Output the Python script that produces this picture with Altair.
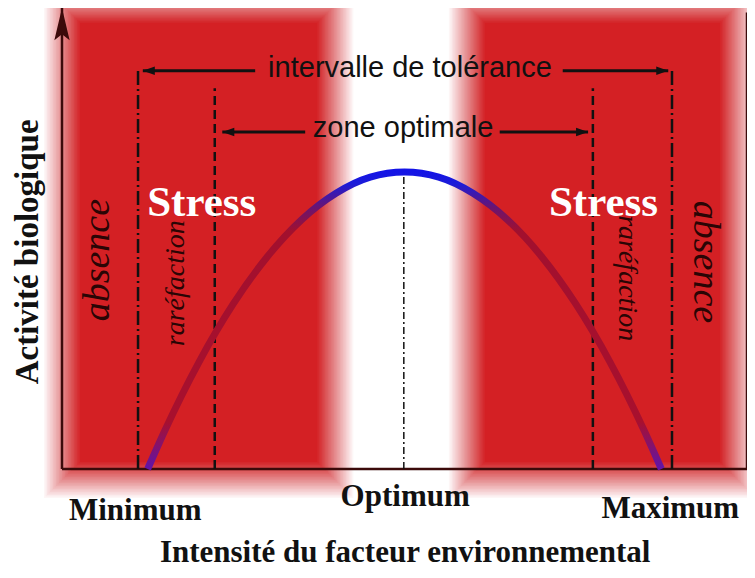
import altair as alt
import pandas as pd

# ---------------- data (axis units: x 0-100 intensity, y 0-100 activity) ----------------
zone_names = ["gauche", "droite"]
zone_x_start = [0.0, 59.1]
zone_x_end = [39.9, 98.7]
zone_y_top = [100.7, 100.7]
zone_y_bottom = [-2.4, -2.4]

curve_x = [12.5, 15, 20, 25, 30, 35, 40, 45, 50, 55, 60, 65, 70, 75, 80, 85, 87.5]
curve_y = [0, 8.3, 23.2, 35.8, 46.1, 54.1, 59.8, 63.3, 64.4, 63.3, 59.8, 54.1, 46.1, 35.8, 23.2, 8.3, 0]

guide_names = ["Minimum", "limite optimale gauche", "Optimum", "limite optimale droite", "Maximum"]
guide_x = [11.1, 22.3, 49.9, 77.5, 89.05]
guide_top = [87.0, 82.6, 64.4, 82.6, 87.0]
guide_kind = ["tolerance", "optimale", "optimum", "optimale", "tolerance"]

arrow_labels = ["intervalle de tolérance", "zone optimale"]
arrow_y = [86.4, 73.1]
arrow_label_x = [50.8, 49.8]
arrow_label_y = [87.0, 74.0]
arrow_left_from = [28.2, 35.5]
arrow_left_to = [11.8, 23.4]
arrow_right_from = [73.1, 63.9]
arrow_right_to = [88.5, 76.8]

stress_x = [20.4, 79.05]
stress_y = [57.7, 57.7]

absence_x = [5.25, 93.9]
absence_y = [45.3, 44.9]
absence_angle = [270, 90]

rare_x = [16.6, 82.5]
rare_y = [40.3, 41.4]
rare_angle = [270, 90]

tick_labels = ["Minimum", "Optimum", "Maximum"]
tick_x = [10.7, 50.1, 88.8]
tick_y = [-9.1, -6.1, -8.7]

x_title = "Intensité du facteur environnemental"
y_title = "Activité biologique"

# ---------------- styling ----------------
RED = "#d42024"
AXIS = "#3b0a0a"
INK = "#111111"
SERIF = "Liberation Serif"
SANS = "Liberation Sans"

xs = alt.Scale(domain=[0, 100], nice=False, zero=False)
ys = alt.Scale(domain=[0, 100], nice=False, zero=False)


def X(f):
    return alt.X(f, type="quantitative", scale=xs, axis=None)


def Y(f):
    return alt.Y(f, type="quantitative", scale=ys, axis=None)


zones_df = pd.DataFrame({"zone": zone_names, "x0": zone_x_start, "x1": zone_x_end,
                         "yt": zone_y_top, "yb": zone_y_bottom})
curve_df = pd.DataFrame({"x": curve_x, "y": curve_y})
guides_df = pd.DataFrame({"name": guide_names, "x": guide_x, "top": guide_top,
                          "kind": guide_kind, "bottom": [0] * len(guide_x)})
arrows_df = pd.DataFrame({"label": arrow_labels, "y": arrow_y, "lx": arrow_label_x, "ly": arrow_label_y,
                          "lf": arrow_left_from, "lt": arrow_left_to,
                          "rf": arrow_right_from, "rt": arrow_right_to})
axes_df = pd.DataFrame({"x": [0, 0, 100], "x2": [0, 100, 100], "y": [0, 0, 0], "y2": [100, 0, 99]})
stress_df = pd.DataFrame({"x": stress_x, "y": stress_y, "t": ["Stress", "Stress"]})
absence_df = pd.DataFrame({"x": absence_x, "y": absence_y, "a": absence_angle, "t": ["absence"] * 2})
rare_df = pd.DataFrame({"x": rare_x, "y": rare_y, "a": rare_angle, "t": ["raréfaction"] * 2})
ticks_df = pd.DataFrame({"x": tick_x, "y": tick_y, "t": tick_labels})
titles_df = pd.DataFrame({"x": [50.1], "y": [-20.2], "t": [x_title]})
ytitle_df = pd.DataFrame({"x": [-4.9], "y": [47.1], "t": [y_title]})

layers = []

# soft-edged red zones: stacked rectangles giving a blurred border
steps = [18 - 1.5 * i for i in range(25)]
n = len(steps)
for k, d in enumerate(steps, start=1):
    op = 1.0 / (n - k + 1)
    layers.append(
        alt.Chart(zones_df).mark_rect(color=RED, opacity=op, xOffset=-d, x2Offset=d,
                                      yOffset=-d, y2Offset=d)
        .encode(x=X("x0"), x2="x1", y=Y("yt"), y2="yb")
    )

# axes
layers.append(alt.Chart(axes_df).mark_rule(color=AXIS, strokeWidth=2.5)
              .encode(x=X("x"), x2="x2", y=Y("y"), y2="y2"))
layers.append(alt.Chart(pd.DataFrame({"x": [0], "y": [100]}))
              .mark_point(shape="M0,-1L0.45,0.9L0,0.55L-0.45,0.9Z", size=1156, filled=True,
                          opacity=1, color=AXIS, yOffset=17)
              .encode(x=X("x"), y=Y("y")))

# vertical guides
dash_styles = {"tolerance": ([14, 4, 2, 4], 2.5), "optimale": ([9, 5], 2.5), "optimum": ([7, 3, 2, 3], 1.5)}
for kind, (dash, w) in dash_styles.items():
    layers.append(alt.Chart(guides_df).transform_filter(alt.datum.kind == kind)
                  .mark_rule(color=INK, strokeWidth=w, strokeDash=dash)
                  .encode(x=X("x"), y=Y("bottom"), y2="top"))

# curve with vertical colour gradient
grad = alt.Gradient(gradient="linear", x1=0, x2=0, y1=0, y2=1, stops=[
    alt.GradientStop(color="#1414e6", offset=0),
    alt.GradientStop(color="#1c1cd8", offset=0.04),
    alt.GradientStop(color="#6a1470", offset=0.12),
    alt.GradientStop(color="#a2102e", offset=0.2),
    alt.GradientStop(color="#a8102e", offset=0.84),
    alt.GradientStop(color="#6014aa", offset=1.0),
])
layers.append(alt.Chart(curve_df).mark_line(stroke=grad, strokeWidth=7, interpolate="monotone",
                                            strokeCap="butt")
              .encode(x=X("x"), y=Y("y")))

# horizontal arrows
layers.append(alt.Chart(arrows_df).mark_rule(color=INK, strokeWidth=3)
              .encode(x=X("lf"), x2="lt", y=Y("y")))
layers.append(alt.Chart(arrows_df).mark_rule(color=INK, strokeWidth=3)
              .encode(x=X("rf"), x2="rt", y=Y("y")))
layers.append(alt.Chart(arrows_df).mark_point(shape="M-1,0L1,-0.7L1,0.7Z", size=144, filled=True,
                                              opacity=1, color=INK, xOffset=6)
              .encode(x=X("lt"), y=Y("y")))
layers.append(alt.Chart(arrows_df).mark_point(shape="M1,0L-1,-0.7L-1,0.7Z", size=144, filled=True,
                                              opacity=1, color=INK, xOffset=-6)
              .encode(x=X("rt"), y=Y("y")))
layers.append(alt.Chart(arrows_df).mark_text(font=SANS, fontSize=29, color=INK, baseline="middle",
                                             align="center")
              .encode(x=X("lx"), y=Y("ly"), text="label"))

# zone labels
layers.append(alt.Chart(stress_df).mark_text(font=SERIF, fontSize=43, fontWeight="bold", color="white",
                                             baseline="middle", align="center")
              .encode(x=X("x"), y=Y("y"), text="t"))
for df, size in ((absence_df, 38), (rare_df, 28)):
    for ang in (270, 90):
        layers.append(alt.Chart(df).transform_filter(alt.datum.a == ang)
                      .mark_text(font=SERIF, fontSize=size, fontStyle="italic", color="#2a0505",
                                 baseline="middle", align="center", angle=ang)
                      .encode(x=X("x"), y=Y("y"), text="t"))

# tick labels and titles
layers.append(alt.Chart(ticks_df).mark_text(font=SERIF, fontSize=31, fontWeight="bold", color=INK,
                                            baseline="middle", align="center")
              .encode(x=X("x"), y=Y("y"), text="t"))
layers.append(alt.Chart(titles_df).mark_text(font=SERIF, fontSize=31, fontWeight="bold", color=INK,
                                             baseline="alphabetic", align="center")
              .encode(x=X("x"), y=Y("y"), text="t"))
layers.append(alt.Chart(ytitle_df).mark_text(font=SERIF, fontSize=33, fontWeight="bold", color=INK,
                                             baseline="middle", align="center", angle=270)
              .encode(x=X("x"), y=Y("y"), text="t"))

chart = (
    alt.layer(*layers)
    .properties(width=685, height=461, autosize=alt.AutoSizeParams(type="none"),
                padding={"left": 54, "top": 0, "right": 0, "bottom": 101}, background="white")
    .configure_view(stroke=None)
)

chart.save("out.html", embed_options={"renderer": "svg", "actions": False})
